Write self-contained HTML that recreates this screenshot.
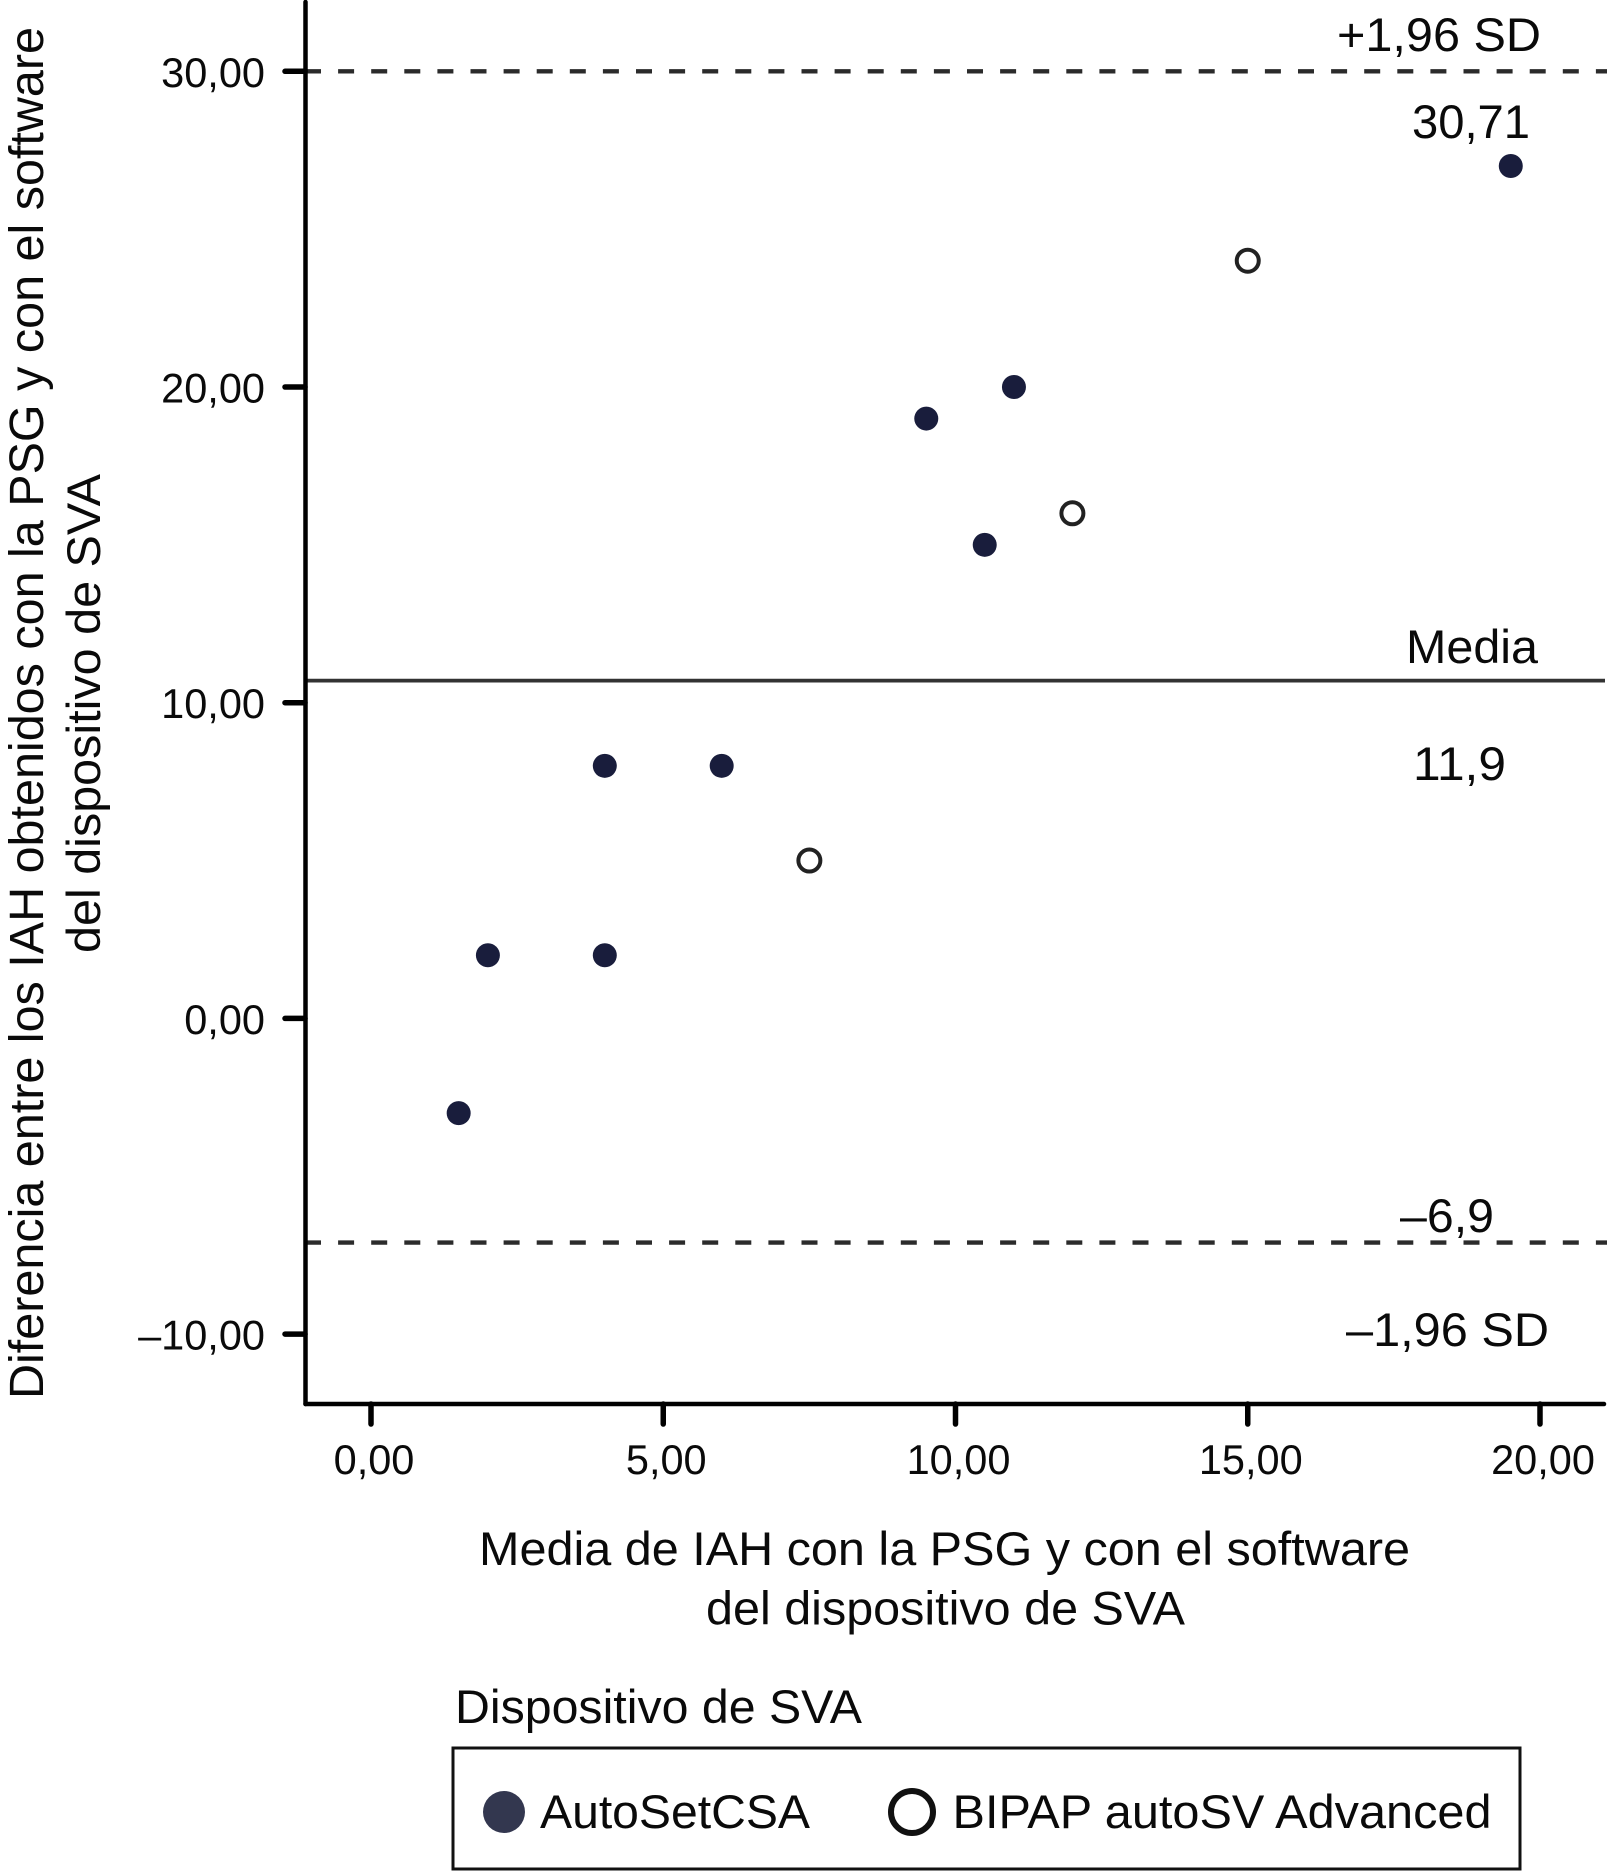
<!DOCTYPE html>
<html lang="es">
<head>
<meta charset="utf-8">
<title>Bland-Altman: IAH con PSG y software de SVA</title>
<style>
html,body{margin:0;padding:0;background:#fff;width:1607px;height:1872px;overflow:hidden}
svg{display:block;position:absolute;left:0;top:0}
text{font-family:"Liberation Sans",Arial,sans-serif;fill:#0a0a0a}
</style>
</head>
<body>
<svg id="chart" xmlns="http://www.w3.org/2000/svg" width="1607" height="1872" viewBox="0 0 1607 1872">
  <rect x="0" y="0" width="1607" height="1872" fill="#fff"/>
  <g id="ref-lines"></g>
  <line x1="305.5" y1="2" x2="305.5" y2="1404" stroke="#000" stroke-width="4.5" stroke-linecap="round"/>
  <line x1="305.5" y1="1404" x2="1604" y2="1404" stroke="#000" stroke-width="4.5" stroke-linecap="round"/>
  <g id="y-ticks"></g>
  <g id="x-ticks"></g>
  <g id="points"></g>

  <text transform="translate(43,1399) rotate(-90)" font-size="48" textLength="1372" lengthAdjust="spacingAndGlyphs">Diferencia entre los IAH obtenidos con la PSG y con el software</text>
  <text transform="translate(100,953) rotate(-90)" font-size="47" textLength="479" lengthAdjust="spacingAndGlyphs">del dispositivo de SVA</text>
  <text x="479" y="1565" font-size="47" textLength="931" lengthAdjust="spacingAndGlyphs">Media de IAH con la PSG y con el software</text>
  <text x="706" y="1624.5" font-size="47" textLength="479" lengthAdjust="spacingAndGlyphs">del dispositivo de SVA</text>

  <text x="1337" y="51" font-size="47" textLength="204" lengthAdjust="spacingAndGlyphs">+1,96 SD</text>
  <text x="1412" y="138" font-size="47" textLength="118" lengthAdjust="spacingAndGlyphs">30,71</text>
  <text x="1406" y="663" font-size="47" textLength="132" lengthAdjust="spacingAndGlyphs">Media</text>
  <text x="1413" y="780" font-size="47" textLength="93" lengthAdjust="spacingAndGlyphs">11,9</text>
  <text x="1400" y="1232" font-size="47" textLength="94" lengthAdjust="spacingAndGlyphs">–6,9</text>
  <text x="1346" y="1346" font-size="47" textLength="203" lengthAdjust="spacingAndGlyphs">–1,96 SD</text>

  <text x="455" y="1723" font-size="47" textLength="407" lengthAdjust="spacingAndGlyphs">Dispositivo de SVA</text>
  <rect x="453" y="1748" width="1067" height="121" fill="none" stroke="#111" stroke-width="3"/>
  <circle cx="504" cy="1812" r="21" fill="#33374f"/>
  <text x="540" y="1828" font-size="47" textLength="270" lengthAdjust="spacingAndGlyphs">AutoSetCSA</text>
  <circle cx="912" cy="1812" r="21" fill="#fff" stroke="#111" stroke-width="6"/>
  <text x="952.5" y="1828" font-size="47" textLength="539" lengthAdjust="spacingAndGlyphs">BIPAP autoSV Advanced</text>
</svg>
<script>
var yTickValues = [30, 20, 10, 0, -10];
var yTickLabels = ["30,00", "20,00", "10,00", "0,00", "–10,00"];
var xTickValues = [0, 5, 10, 15, 20];
var xTickLabels = ["0,00", "5,00", "10,00", "15,00", "20,00"];
var autoSetX = [1.5, 2, 4, 4, 6, 9.5, 10.5, 11, 19.5];
var autoSetY = [-3, 2, 2, 8, 8, 19, 15, 20, 27];
var bipapX = [7.5, 12, 15];
var bipapY = [5, 16, 24];
var upperLimit = 30;
var meanLine = 10.7;
var lowerLimit = -7.1;

var NS = 'http://www.w3.org/2000/svg';
function xScale(v) { return 371 + 58.45 * v; }
function yScale(v) { return 1018.4 - 31.57 * v; }
function make(tag, attrs, parent) {
  var el = document.createElementNS(NS, tag);
  for (var k in attrs) { el.setAttribute(k, attrs[k]); }
  parent.appendChild(el);
  return el;
}

var refGroup = document.getElementById('ref-lines');
var upperEl = make('line', {x1: 305, x2: 1607, y1: yScale(upperLimit), y2: yScale(upperLimit), stroke: '#2b2b2b', 'stroke-width': 4.4, 'stroke-dasharray': '16 17.1'}, refGroup);


var meanEl = make('line', {x1: 305, x2: 1605, y1: yScale(meanLine), y2: yScale(meanLine), stroke: '#333', 'stroke-width': 3.8}, refGroup);


var lowerEl = make('line', {x1: 305, x2: 1607, y1: yScale(lowerLimit), y2: yScale(lowerLimit), stroke: '#2b2b2b', 'stroke-width': 4.4, 'stroke-dasharray': '16 17.1'}, refGroup);



var yGroup = document.getElementById('y-ticks');
yTickValues.forEach(function (v, i) {
  var y = yScale(v);
  var t = make('line', {x1: 285, x2: 305, y1: y, y2: y, stroke: '#000', 'stroke-width': 5.5, 'stroke-linecap': 'round'}, yGroup);
  
  
  var l = make('text', {x: 265, y: y + 15.5, 'text-anchor': 'end', 'font-size': 41.5}, yGroup);
  
  
  l.textContent = yTickLabels[i];
});

var xGroup = document.getElementById('x-ticks');
xTickValues.forEach(function (v, i) {
  var x = xScale(v);
  var t = make('line', {x1: x, x2: x, y1: 1404, y2: 1424, stroke: '#000', 'stroke-width': 5.5, 'stroke-linecap': 'round'}, xGroup);
  
  
  var l = make('text', {x: x + 3, y: 1474, 'text-anchor': 'middle', 'font-size': 41.5}, xGroup);
  
  
  l.textContent = xTickLabels[i];
});

var pointGroup = document.getElementById('points');
autoSetX.forEach(function (v, i) {
  var c = make('circle', {cx: xScale(v), cy: yScale(autoSetY[i]), r: 12, fill: '#191d3c'}, pointGroup);
  
  
});
bipapX.forEach(function (v, i) {
  var c = make('circle', {cx: xScale(v), cy: yScale(bipapY[i]), r: 11, fill: '#fff', stroke: '#222', 'stroke-width': 4}, pointGroup);
  
  
});
</script>
</body>
</html>
